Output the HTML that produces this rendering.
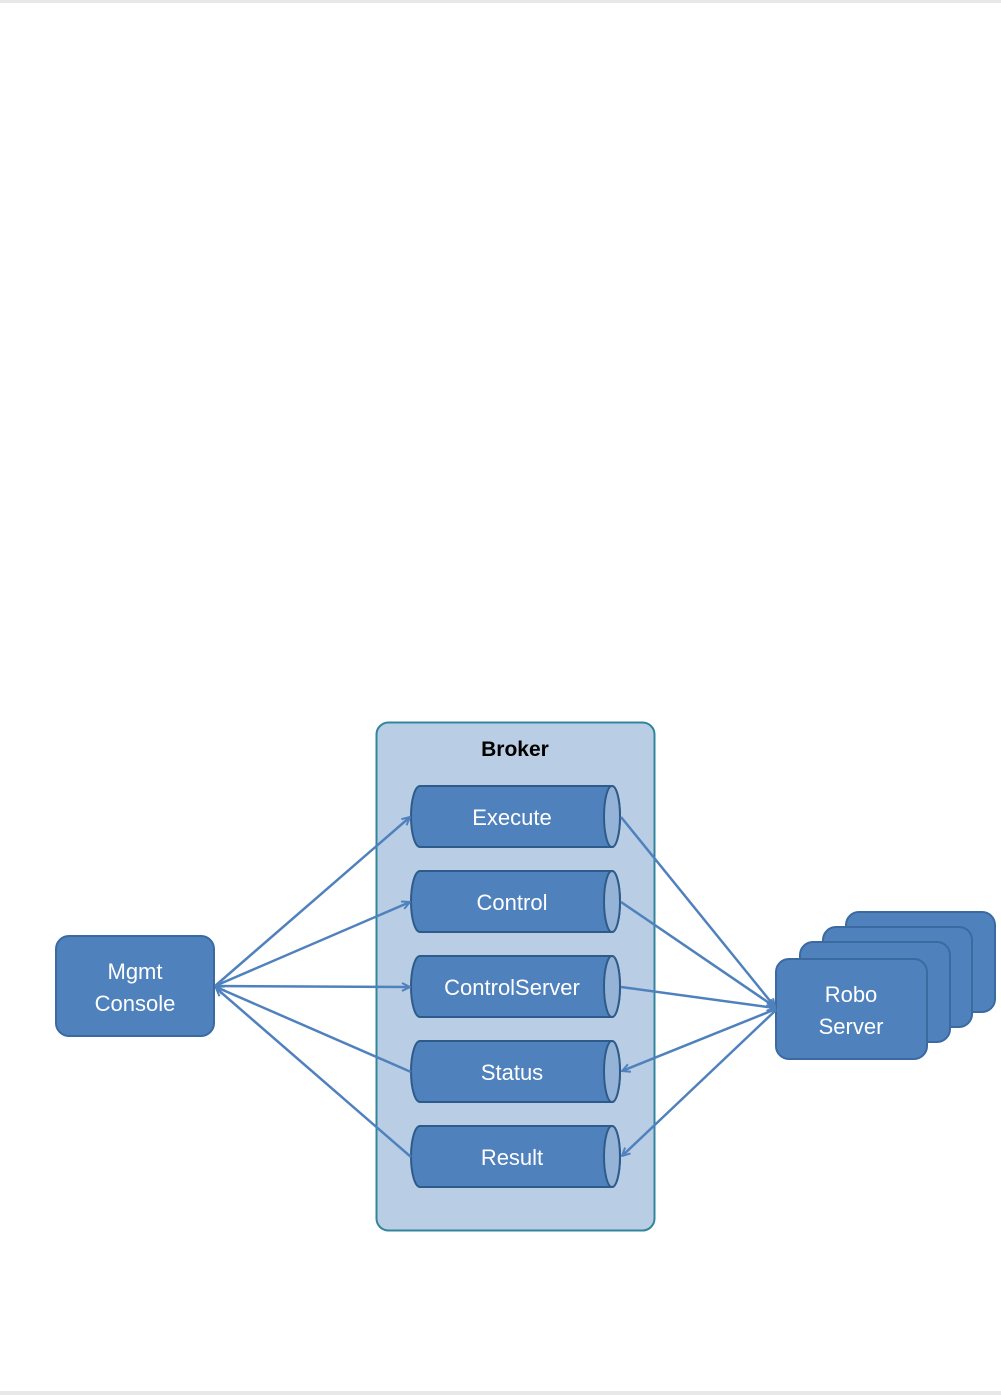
<!DOCTYPE html>
<html><head><meta charset="utf-8"><style>
html,body{margin:0;padding:0;background:#fff;}
svg{display:block;}
text{font-family:"Liberation Sans",sans-serif;}
</style></head><body>
<svg width="1001" height="1395" viewBox="0 0 1001 1395" xmlns="http://www.w3.org/2000/svg">
<defs>
<marker id="a" viewBox="0 0 10 10" refX="9" refY="5" markerWidth="10" markerHeight="10" markerUnits="userSpaceOnUse" orient="auto">
<path d="M1,1 L9,5 L1,9" fill="none" stroke="#4f81bd" stroke-width="2"/>
</marker>
</defs>
<rect x="0" y="0" width="1001" height="3" fill="#e8e8e8"/>
<rect x="0" y="1391" width="1001" height="4" fill="#e8e8e8"/>
<rect x="376.5" y="722.5" width="278" height="508" rx="12" fill="#b9cde5" stroke="#31859c" stroke-width="2"/>
<text x="515" y="756" text-anchor="middle" font-size="21" font-weight="bold" fill="#000">Broker</text>

<g stroke="#3a6aa0" stroke-width="2" fill="#4f81bd">
<rect x="846" y="912" width="149" height="100" rx="13"/>
<rect x="823" y="927" width="149" height="100" rx="13"/>
<rect x="800" y="942" width="150" height="100" rx="13"/>
<rect x="776" y="959" width="151" height="100" rx="13"/>
<rect x="56" y="936" width="158" height="100" rx="13"/>
</g>
<g fill="#fff" font-size="22" text-anchor="middle">
<text x="851" y="1002">Robo</text>
<text x="851" y="1034">Server</text>
<text x="135" y="979">Mgmt</text>
<text x="135" y="1011">Console</text>
</g>

<g id="cyls" stroke="#2f5b8a" stroke-width="2">
<g>
<path d="M420,786 H612 A8,30.5 0 0 1 612,847 H420 A9,30.5 0 0 1 420,786 Z" fill="#4f81bd"/>
<ellipse cx="612" cy="816.5" rx="8" ry="30.5" fill="#95b3d7"/>
</g>
<g>
<path d="M420,871 H612 A8,30.5 0 0 1 612,932 H420 A9,30.5 0 0 1 420,871 Z" fill="#4f81bd"/>
<ellipse cx="612" cy="901.5" rx="8" ry="30.5" fill="#95b3d7"/>
</g>
<g>
<path d="M420,956 H612 A8,30.5 0 0 1 612,1017 H420 A9,30.5 0 0 1 420,956 Z" fill="#4f81bd"/>
<ellipse cx="612" cy="986.5" rx="8" ry="30.5" fill="#95b3d7"/>
</g>
<g>
<path d="M420,1041 H612 A8,30.5 0 0 1 612,1102 H420 A9,30.5 0 0 1 420,1041 Z" fill="#4f81bd"/>
<ellipse cx="612" cy="1071.5" rx="8" ry="30.5" fill="#95b3d7"/>
</g>
<g>
<path d="M420,1126 H612 A8,30.5 0 0 1 612,1187 H420 A9,30.5 0 0 1 420,1126 Z" fill="#4f81bd"/>
<ellipse cx="612" cy="1156.5" rx="8" ry="30.5" fill="#95b3d7"/>
</g>
</g>
<g fill="#fff" font-size="22" text-anchor="middle">
<text x="512" y="825">Execute</text>
<text x="512" y="910">Control</text>
<text x="512" y="995">ControlServer</text>
<text x="512" y="1080">Status</text>
<text x="512" y="1165">Result</text>
</g>

<g stroke="#4f81bd" stroke-width="2.5" fill="none">
<line x1="215" y1="986" x2="410" y2="817" marker-end="url(#a)"/>
<line x1="215" y1="986" x2="410" y2="902" marker-end="url(#a)"/>
<line x1="215" y1="986" x2="410" y2="987" marker-end="url(#a)"/>
<line x1="411" y1="1072" x2="216" y2="987" marker-end="url(#a)"/>
<line x1="411" y1="1157" x2="216" y2="988" marker-end="url(#a)"/>
<line x1="621" y1="817" x2="775" y2="1007" marker-end="url(#a)"/>
<line x1="621" y1="902" x2="775" y2="1007" marker-end="url(#a)"/>
<line x1="621" y1="987" x2="775" y2="1008" marker-end="url(#a)"/>
<line x1="776" y1="1009" x2="622" y2="1071" marker-end="url(#a)"/>
<line x1="776" y1="1010" x2="622" y2="1156" marker-end="url(#a)"/>
</g>
</svg>
</body></html>
